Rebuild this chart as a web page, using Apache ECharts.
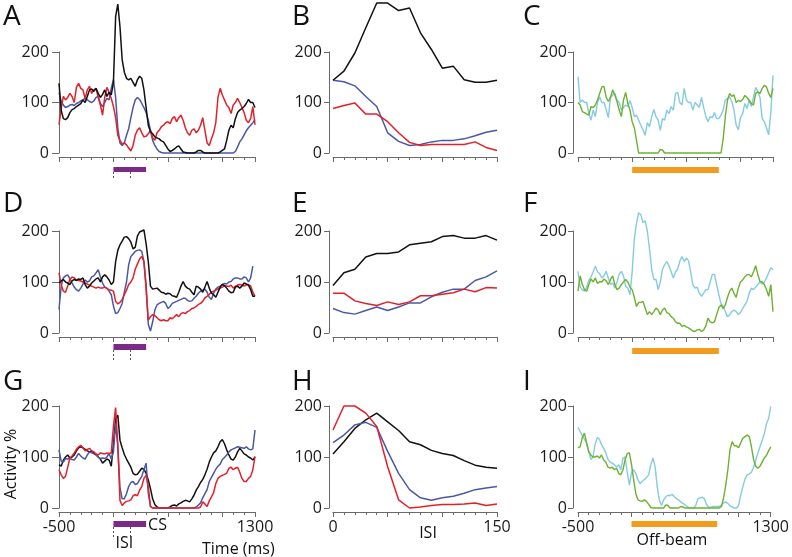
<!DOCTYPE html>
<html><head><meta charset="utf-8">
<script src="https://cdn.jsdelivr.net/npm/echarts@6/dist/echarts.min.js"></script>
<style>html,body{margin:0;padding:0;background:#fff}#c{width:792px;height:557px}</style>
</head><body><div id="c"></div>
<script>
// ---------- x values ----------
const timeMs = Array.from({length: 91}, (_, i) => -500 + 20 * i);   // -500 .. 1300 ms
const isiMs = [0,10,20,30,40,50,60,70,80,90,100,110,120,130,140,150];

// ---------- Panel A ----------
const aBlack = [138,85,68,66,70,80,86,88,92,95, 98,105,100,112,125,127,122,128,118,110, 116,125,112,120,115,140,270,295,250,185, 160,148,145,148,140,132,145,152,148,125, 90,55,42,38,32,30,28,24,22,15, 8,3,5,8,12,14,8,2,1,0, 0,0,0,2,5,5,2,0,0,0, 0,0,0,0,2,5,8,25,45,55, 50,68,80,85,88,92,98,106,100,100, 90];
const aRed = [56,88,112,105,110,118,112,100,130,138, 128,125,108,125,132,118,125,128,110,95, 75,110,130,120,108,92,70,35,25,18, 20,16,10,4,15,35,45,50,40,32, 33,38,45,30,25,40,45,52,55,60, 62,58,68,72,62,70,75,65,50,40, 35,45,48,40,45,55,70,45,20,15, 28,40,60,110,128,115,105,95,90,78, 95,100,108,100,90,80,65,60,68,92, 56];
const aBlue = [120,102,95,90,92,95,96,94,98,100, 103,105,108,105,102,100,103,110,112,98, 92,100,108,105,128,145,110,50,20,15, 20,35,48,70,90,105,110,106,98,90, 80,65,45,25,15,8,3,1,0,0, 0,0,0,0,0,0,0,0,0,0, 0,0,0,0,0,0,0,0,0,0, 0,0,0,0,0,0,0,0,0,0, 0,3,12,22,28,36,44,50,55,60, 66];

// ---------- Panel B ----------
const bBlack = [144,162,198,248,297,297,282,287,238,205,168,172,145,140,140,144];
const bBlue = [144,141,133,112,92,40,23,15,17,22,25,25,28,34,41,45];
const bRed = [88,94,99,77,77,62,40,21,15,17,17,17,17,22,11,5];

// ---------- Panel C ----------
const cBlue = [151,100,105,100,100,78,65,85,72,100, 111,100,100,86,70,110,115,118,105,100, 85,90,95,92,104,90,72,75,65,55, 46,35,60,52,72,86,72,65,45,68, 65,85,78,92,85,118,120,100,95,128, 105,100,100,85,100,95,90,110,90,72, 62,72,70,80,68,68,75,85,105,108, 111,102,85,55,46,70,78,98,88,105, 92,110,130,122,110,68,62,50,36,80, 154];
const cGreen = [100,95,82,80,77,75,92,90,95,105, 118,131,132,110,102,110,125,115,102,85, 72,105,120,98,85,62,50,25,0,0, 0,0,0,0,0,0,0,0,7,6, 0,0,0,0,0,0,0,0,0,0, 0,0,0,0,0,0,0,0,0,0, 0,0,0,0,0,0,0,28,72,105, 118,112,115,100,104,102,106,114,110,104, 98,95,118,121,118,128,134,131,118,110, 128];

// ---------- Panel D ----------
const dBlack = [98,102,105,100,98,95,102,105,103,106, 105,108,95,88,92,98,102,106,108,100, 110,114,110,104,95,100,140,162,173,180, 188,189,185,178,165,168,190,198,200,202, 175,140,92,86,87,88,84,80,79,76, 78,77,73,72,70,80,92,101,92,88, 86,80,75,92,90,86,80,90,101,88, 78,75,70,80,90,95,93,88,82,79, 80,90,92,88,92,98,96,94,85,72, 72];
const dRed = [118,95,82,80,92,105,110,108,104,103, 102,100,98,96,94,92,90,88,90,88, 88,90,87,85,84,82,62,57,60,66, 75,84,95,100,108,125,135,145,150,140, 85,25,32,36,34,30,26,24,26,24, 24,30,28,32,36,32,38,40,38,42, 44,48,49,52,56,58,62,69,72,76, 80,82,84,86,88,90,92,92,91,94, 88,92,94,95,94,92,94,95,92,80, 72];
const dBlue = [46,92,108,112,114,106,98,90,85,82, 88,96,104,100,102,110,112,118,124,110, 98,90,88,82,75,53,38,40,48,58, 80,100,134,150,155,160,162,163,160,140, 95,17,4,22,45,55,58,60,62,58, 48,52,58,60,62,64,66,68,68,64, 62,63,68,72,78,82,84,86,80,70, 66,78,86,90,92,95,97,96,100,101, 106,108,108,106,106,110,108,100,108,131];

// ---------- Panel E ----------
const eBlack = [93,118,125,149,156,156,159,173,176,179,189,191,186,186,191,182];
const eBlue = [48,40,37,44,51,44,51,59,59,71,80,86,86,103,110,122];
const eRed = [78,78,63,58,54,61,56,61,73,73,76,79,86,81,89,88];

// ---------- Panel F ----------
const fBlue = [121,90,85,82,90,103,110,120,131,120, 116,108,112,121,108,95,98,88,100,115, 121,112,92,88,75,120,185,215,236,232, 216,220,200,165,125,105,105,85,100,125, 134,140,132,120,108,120,125,141,150,140, 147,142,120,95,88,90,78,72,78,85, 85,100,115,115,95,75,58,52,42,32, 36,42,45,42,36,40,48,55,62,78, 88,85,90,95,100,96,100,108,118,128, 124];
const fGreen = [82,112,95,85,82,95,106,100,108,97, 101,100,106,102,95,105,112,95,85,88, 95,100,105,100,90,85,70,52,60,60, 62,49,36,42,36,42,49,45,36,45, 49,40,38,32,29,22,19,19,13,15, 12,10,7,4,3,6,7,3,6,14, 29,22,20,22,36,50,55,48,55,70, 82,88,78,70,88,100,104,110,114,115, 110,120,132,115,101,100,95,85,72,95, 42];

// ---------- Panel G ----------
const gBlack = [85,82,94,100,104,98,100,104,112,118, 120,118,115,112,110,112,108,105,100,96, 88,92,96,94,82,125,175,182,133,118, 105,96,88,80,68,65,66,72,78,76, 68,55,38,18,7,2,0,0,0,0, 0,2,5,6,4,8,10,13,15,14, 12,18,25,35,42,50,56,65,76,90, 100,108,112,120,130,134,126,114,104,96, 94,100,110,117,112,106,104,100,98,94, 100];
const gRed = [75,65,58,62,80,98,102,108,115,120, 123,118,112,115,117,112,110,106,104,108, 107,106,108,107,108,160,197,125,15,5, 10,13,14,16,24,26,24,35,42,58, 64,42,3,0,0,0,0,0,0,0, 0,0,0,0,0,0,0,0,0,0, 0,0,0,0,0,2,12,8,3,14, 22,30,48,58,62,64,66,68,78,80, 75,78,80,70,58,52,52,58,62,75, 101];
const gBlue = [114,92,90,97,96,97,95,94,100,107, 102,98,96,104,110,108,106,104,100,97, 98,97,100,107,96,110,166,120,40,18, 18,28,42,50,52,46,48,55,62,75, 88,29,3,0,0,0,0,0,0,0, 0,0,0,0,0,0,0,0,0,0, 0,0,0,2,6,10,20,28,36,52, 60,68,76,82,86,95,99,104,110,114, 116,118,120,119,118,117,120,116,114,116, 153];

// ---------- Panel H ----------
const hBlack = [106,130,156,173,186,169,152,130,124,113,107,103,93,84,80,78];
const hBlue = [128,143,163,168,158,111,68,36,20,15,20,23,29,36,39,42];
const hRed = [153,200,200,186,160,81,16,0,2,5,7,7,8,10,5,8];

// ---------- Panel I ----------
const iBlue = [158,150,142,135,127,112,95,100,125,138, 135,124,117,108,95,90,88,85,80,85, 75,98,100,70,45,70,75,68,55,48, 52,56,60,65,85,98,81,42,15,5, 16,22,25,24,27,22,18,16,12,9, 6,3,0,0,0,5,18,20,21,18, 7,2,1,3,3,3,3,5,10,12, 9,4,2,0,0,5,25,42,57,65, 67,70,80,94,108,120,133,145,165,175, 199];
const iGreen = [118,120,138,147,128,110,104,100,100,102, 98,104,94,90,80,78,80,75,78,68, 65,75,95,107,108,85,55,28,16,14, 13,16,13,7,1,0,0,0,0,0, 0,6,5,0,0,0,0,0,3,2, 0,0,0,0,0,0,0,0,0,0, 0,0,0,0,0,0,0,3,20,45, 75,115,130,122,122,118,128,137,140,143, 140,120,95,82,78,82,90,98,103,112, 120];

// ---------- annotations (ms) ----------
const isiWindow = [0, 150];
const csWindow = [0, 300];
const offBeamWindow = [0, 800];
const panelLetters = ['A','B','C','D','E','F','G','H','I'];
const yTicks = [0, 100, 200];

// ---------- styling ----------
const FONT = "'Open Sans','Noto Sans',sans-serif";
const AX = '#6a6a6a';
const C_BLACK = '#111111', C_RED = '#e3202a', C_BLUE = '#4a58a4', C_GREEN = '#6db131', C_LBLUE = '#84cbe0';
const C_PURPLE = '#7b2a86', C_ORANGE = '#f39b1c';

const cols = [
  {left: 59, width: 196, yOff: 0, yTick: 7, yMargin: 10, xs: timeMs, min: -500, max: 1300, minor: 100, major: 500},
  {left: 333, width: 164, yOff: 4, yTick: 5, yMargin: 7, xs: isiMs, min: 0, max: 150, minor: 10, major: 50},
  {left: 578, width: 195, yOff: 5, yTick: 5, yMargin: 6, xs: timeMs, min: -500, max: 1300, minor: 100, major: 500}
];
const rows = [{top: 52, height: 101}, {top: 231, height: 102}, {top: 406, height: 102}];

const panelSeries = [
  [[aBlue, C_BLUE], [aRed, C_RED], [aBlack, C_BLACK]],
  [[bBlue, C_BLUE], [bRed, C_RED], [bBlack, C_BLACK]],
  [[cBlue, C_LBLUE], [cGreen, C_GREEN]],
  [[dBlue, C_BLUE], [dRed, C_RED], [dBlack, C_BLACK]],
  [[eBlue, C_BLUE], [eRed, C_RED], [eBlack, C_BLACK]],
  [[fBlue, C_LBLUE], [fGreen, C_GREEN]],
  [[gBlack, C_BLACK], [gBlue, C_BLUE], [gRed, C_RED]],
  [[hBlack, C_BLACK], [hBlue, C_BLUE], [hRed, C_RED]],
  [[iBlue, C_LBLUE], [iGreen, C_GREEN]]
];

const grids = [], xMain = [], xMajor = [], yAxes = [], series = [];
for (let r = 0; r < 3; r++) for (let c = 0; c < 3; c++) {
  const p = r * 3 + c, col = cols[c], row = rows[r];
  grids.push({left: col.left, top: row.top, width: col.width, height: row.height});
  xMain.push({
    type: 'value', gridIndex: p, position: 'bottom', min: col.min, max: col.max, interval: col.minor, offset: 4,
    axisLine: {show: true, onZero: false, lineStyle: {color: AX, width: 1}},
    axisTick: {show: true, length: 3, lineStyle: {color: AX, width: 1}},
    splitLine: {show: false},
    axisLabel: {show: r === 2, margin: 7, fontSize: 16, fontFamily: FONT, color: '#1a1a1a',
      showMinLabel: true, showMaxLabel: true,
      formatter: v => (v === col.min || v === col.max) ? String(v) : ''}
  });
  xMajor.push({
    type: 'value', gridIndex: p, position: 'bottom', min: col.min, max: col.max, interval: col.major, offset: 4,
    axisLine: {show: false, onZero: false}, axisTick: {show: true, length: 5, lineStyle: {color: AX, width: 1}},
    splitLine: {show: false}, axisLabel: {show: false}
  });
  yAxes.push({
    type: 'value', gridIndex: p, position: 'left', min: yTicks[0], max: yTicks[2], interval: yTicks[1] - yTicks[0], offset: col.yOff,
    axisLine: {show: true, onZero: false, lineStyle: {color: AX, width: 1}},
    axisTick: {show: true, length: col.yTick, lineStyle: {color: AX, width: 1}},
    splitLine: {show: false},
    axisLabel: {margin: col.yMargin, fontSize: 16, fontFamily: FONT, color: '#1a1a1a'}
  });
  panelSeries[p].forEach(([vals, color]) => {
    series.push({
      type: 'line', xAxisIndex: p, yAxisIndex: p, clip: false, symbol: 'none', showSymbol: false,
      lineStyle: {color, width: (color === C_LBLUE || color === C_GREEN) ? 1.4 : 1.5},
      data: vals.map((v, i) => [col.xs[i], v]), silent: true, animation: false
    });
  });
}

const chart = echarts.init(document.getElementById('c'), null, {renderer: 'canvas'});
chart.setOption({
  animation: false, backgroundColor: '#fff',
  grid: grids, xAxis: xMain.concat(xMajor), yAxis: yAxes, series
});

// ---------- annotations positioned through the axes ----------
const px = (p, x) => chart.convertToPixel({gridIndex: p}, [x, 0])[0];
const g = [];
const txt = (text, x, y, size, align, extra) => Object.assign({
  type: 'text', x, y, silent: true,
  style: {text, font: size + 'px ' + FONT, fill: '#111', align, textAlign: align, verticalAlign: 'middle', textVerticalAlign: 'middle'}
}, extra || {});

const letterPos = [[3, 292, 523], [17, 204, 382]];
panelLetters.forEach((L, p) => {
  const r = Math.floor(p / 3), c = p % 3;
  g.push(txt(L, letterPos[0][c], letterPos[1][r], 28, 'left'));
});

const purpleY = [167, 344, 521], purpleH = [5, 6, 6];
const dashY = [[172, 180], [350, 360], [527, 538]];
const orangeY = [167, 348, 521];
for (let r = 0; r < 3; r++) {
  const pA = r * 3, pC = r * 3 + 2;
  const x0 = px(pA, csWindow[0]), x1 = px(pA, csWindow[1]);
  g.push({type: 'rect', silent: true, shape: {x: x0, y: purpleY[r], width: x1 - x0, height: purpleH[r]}, style: {fill: C_PURPLE}});
  isiWindow.forEach(t => {
    const xx = Math.round(px(pA, t)) + 0.5;
    g.push({type: 'line', silent: true, shape: {x1: xx, y1: dashY[r][0], x2: xx, y2: dashY[r][1]}, style: {stroke: '#555', lineWidth: 1, lineDash: [2, 2]}});
  });
  const o0 = px(pC, offBeamWindow[0]), o1 = px(pC, offBeamWindow[1]);
  g.push({type: 'rect', silent: true, shape: {x: o0, y: orangeY[r], width: o1 - o0, height: 6}, style: {fill: C_ORANGE}});
}

g.push(txt('CS', px(6, csWindow[1]) + 2, 525, 16, 'left'));
g.push(txt('ISI', px(6, isiWindow[0]) + 2, 543, 16, 'left'));
g.push(txt('Time (ms)', 202, 549, 16, 'left'));
g.push(txt('ISI', 428, 533, 16, 'center'));
g.push(txt('Off-beam', 672, 540, 16, 'center'));
g.push(txt('Activity %', 11, 464, 16, 'center', {rotation: Math.PI / 2}));

chart.setOption({graphic: {elements: g}});
</script>
</body></html>
